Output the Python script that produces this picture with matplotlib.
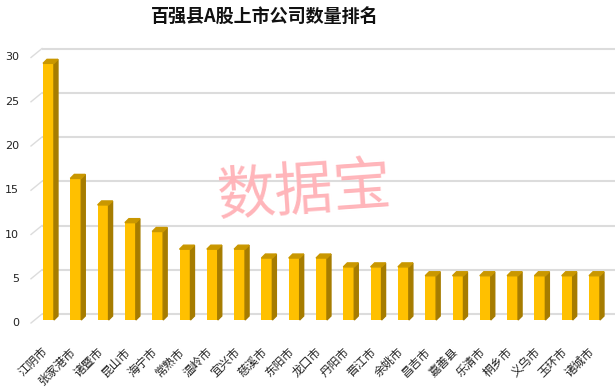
import matplotlib
matplotlib.use("Agg")
import matplotlib.pyplot as plt
from matplotlib.patches import Polygon
from matplotlib.transforms import offset_copy

plt.rcParams['font.family'] = ['Noto Sans CJK SC', 'DejaVu Sans']

title = "百强县A股上市公司数量排名"
cities = ["江阴市", "张家港市", "诸暨市", "昆山市", "海宁市", "常熟市", "温岭市",
          "宜兴市", "慈溪市", "东阳市", "龙口市", "丹阳市", "晋江市", "余姚市",
          "昌吉市", "嘉善县", "乐清市", "桐乡市", "义乌市", "玉环市", "诸城市"]
counts = [29, 16, 13, 11, 10, 8, 8, 8, 7, 7, 7, 6, 6, 6, 5, 5, 5, 5, 5, 5, 5]
yticks = [0, 5, 10, 15, 20, 25, 30]

W, H = 616, 391
fig = plt.figure(figsize=(W / 100, H / 100), dpi=100)
ax = fig.add_axes([34.85 / W, 71 / H, 573.3 / W, 265.5 / H])
ax.set_xlim(-0.5, 20.5)
ax.set_ylim(0, 30)
ax.axis("off")

# pixel size of one data unit
p0 = ax.transData.transform((0, 0))
p1 = ax.transData.transform((1, 1))
ux = p1[0] - p0[0]
uy = p1[1] - p0[1]


def px(dx):
    return dx / ux


def py(dy):
    return dy / uy


# walls / gridlines with a bit of perspective
x_back0 = px(42 - p0[0])
x_front = px(31 - p0[0])
x_back1 = px(615 - p0[0])
for v in yticks:
    ax.plot([x_back0, x_back1], [v + py(6), v + py(6)], color="#dcdcdc", lw=1.5,
            zorder=1, clip_on=False, solid_capstyle="butt")
    ax.plot([x_front, x_back0], [v - py(3), v + py(6)], color="#dcdcdc", lw=1.0,
            zorder=1, clip_on=False)
    ax.text(px(19 - p0[0]), v - py(3), str(v), ha="right", va="center",
            fontsize=8, family="DejaVu Sans", color="#222222", clip_on=False)

# 3D-looking bars
w = 0.4
dx, dy = px(4), py(4)
xs = list(range(len(cities)))
ax.bar(xs, counts, width=w, color="#FFC000", zorder=3)
for x, v in zip(xs, counts):
    r = x + w / 2
    l = x - w / 2
    side = Polygon([(r, 0), (r + dx, dy), (r + dx, v + dy), (r, v)],
                   closed=True, color="#A67C00", zorder=3, clip_on=False)
    top = Polygon([(l, v), (r, v), (r + dx, v + dy), (l + dx, v + dy)],
                  closed=True, color="#C99700", zorder=3, clip_on=False)
    ax.add_patch(side)
    ax.add_patch(top)

lab_tr = offset_copy(ax.transData, fig, x=-2, y=-30, units="dots")
for x, name in zip(xs, cities):
    ax.text(x, 0, name, transform=lab_tr, rotation=45, rotation_mode="anchor",
            ha="right", va="center", fontsize=8.5, color="#222222")

fig.text(265 / W, 1 - 17 / H, title, ha="center", va="center", fontsize=13,
         fontweight="bold", color="#111111")
fig.text(305 / W, 1 - 192 / H, "数据宝", ha="center", va="center", fontsize=42,
         color="#ffb5ba", rotation=4, zorder=10)

fig.savefig("out.png", dpi=100)
